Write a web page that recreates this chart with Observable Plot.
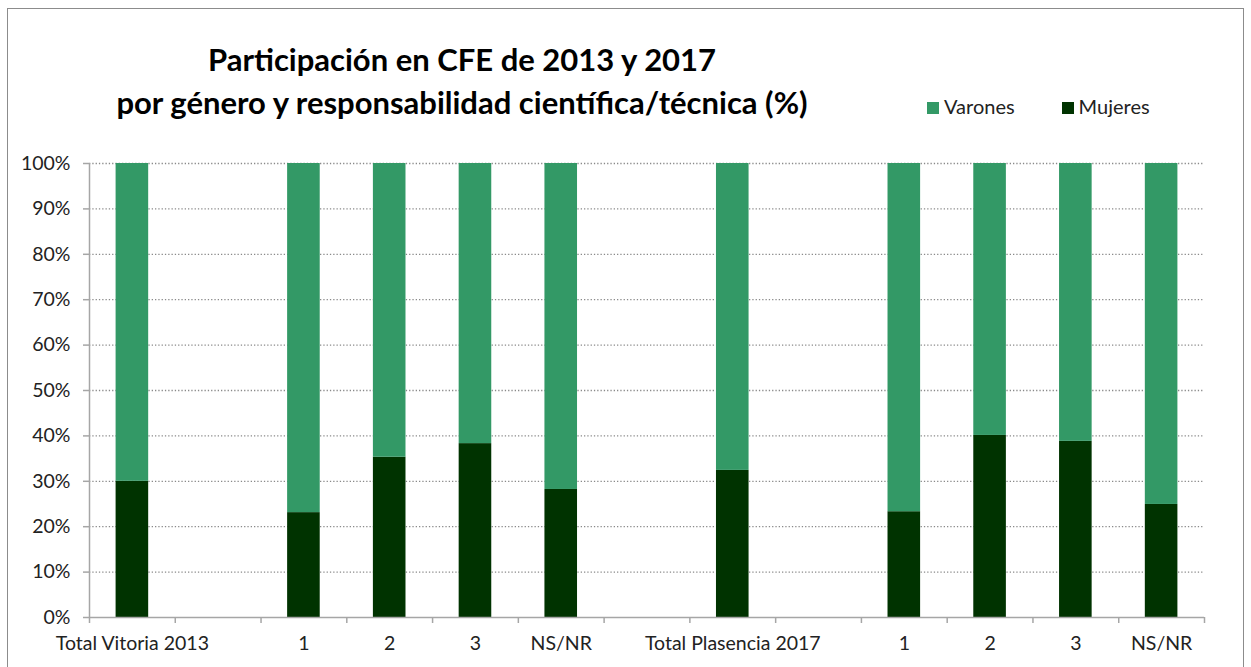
<!DOCTYPE html>
<html><head><meta charset="utf-8">
<script src="https://cdn.jsdelivr.net/npm/d3@7"></script>
<script src="https://cdn.jsdelivr.net/npm/@observablehq/plot@0.6"></script>
<style>
body{margin:0;background:#fff;font-family:Lato,"Open Sans",sans-serif;}
#wrap{position:relative;width:1251px;height:667px;overflow:hidden;}
#frame{position:absolute;left:7px;top:8px;width:1237px;height:680px;border:1.5px solid #8c8c8c;box-sizing:border-box;}
#title{position:absolute;left:62px;width:800px;top:38px;text-align:center;font-weight:bold;font-size:31px;line-height:43px;color:#000;}
#legend{position:absolute;top:94px;left:927px;font-size:20px;color:#222;display:flex;}
#legend span.sw{display:inline-block;width:12px;height:12px;margin-right:5px;vertical-align:0px;}
#legend .item{margin-right:47px;}
#chart{position:absolute;left:0;top:0;}
</style></head>
<body>
<div id="wrap">
<div id="chart"></div>
<div id="frame"></div>
<div id="title">Participación en CFE de 2013 y 2017<br>por género y responsabilidad científica/técnica (%)</div>
<div id="legend"></div>
</div>
<script>
// category slots along the x axis (null = empty slot)
const slots = ["Total Vitoria 2013", null, "1", "2", "3", "NS/NR", null, "Total Plasencia 2017", null, "1", "2", "3", "NS/NR"];
const mujeres = [30.0, 23.1, 35.3, 38.3, 28.2, 32.4, 23.3, 40.1, 38.8, 24.9];
const varones = [70.0, 76.9, 64.7, 61.7, 71.8, 67.6, 76.7, 59.9, 61.2, 75.1];
const series = ["Varones", "Mujeres"];
const colors = ["#339966", "#003300"];
const yTicks = [0,10,20,30,40,50,60,70,80,90,100];

const positions = slots.map((s,i)=>s===null?null:i).filter(i=>i!==null);
const data = [];
positions.forEach((p,k)=>{
  data.push({slot:p, serie:"Mujeres", value:mujeres[k]});
  data.push({slot:p, serie:"Varones", value:varones[k]});
});
const labels = slots.map((s,i)=>({slot:i, label:s})).filter(d=>d.label!==null);
const bounds = d3.range(slots.length+1);

const chart = Plot.plot({
  width:1251, height:667,
  marginLeft:89, marginRight:47, marginTop:163, marginBottom:50,
  style:{fontFamily:"Lato, 'Open Sans', sans-serif", fontSize:"19.5px", color:"#222"},
  x:{domain:[0, slots.length], label:null},
  y:{domain:[0,100], label:null},
  color:{domain:series, range:colors},
  marks:[
    Plot.ruleY(yTicks.filter(t=>t>0), {y:d=>d, stroke:"#8a8a8a", strokeWidth:1.3, strokeDasharray:"1.3,2"}),
    Plot.rectY(data, Plot.stackY({x1:d=>d.slot+0.31, x2:d=>d.slot+0.69, y:"value", fill:"serie", order:["Mujeres","Varones"]})),
    Plot.ruleY([0], {stroke:"#a6a6a6", strokeWidth:1.5}),
    Plot.ruleX([0], {stroke:"#a6a6a6", strokeWidth:1.5}),
    Plot.axisY({ticks:yTicks, tickFormat:d=>d+"%", tickSize:6, tickPadding:13, stroke:"#a6a6a6", strokeWidth:1.5, fontSize:19.5, label:null}),
    Plot.axisX({ticks:bounds, tickFormat:()=>"", tickSize:6, stroke:"#a6a6a6", strokeWidth:1.5, label:null}),
    Plot.text(labels, {x:d=>d.slot+0.5, text:"label", frameAnchor:"bottom", dy:32, fill:"#222", fontSize:19.5})
  ]
});
document.getElementById("chart").appendChild(chart);
const leg = document.getElementById("legend");
series.forEach((s,i)=>{const it=document.createElement("span");it.className="item";it.innerHTML=`<span class="sw" style="background:${colors[i]}"></span>${s}`;leg.appendChild(it);});
</script>
</body></html>
